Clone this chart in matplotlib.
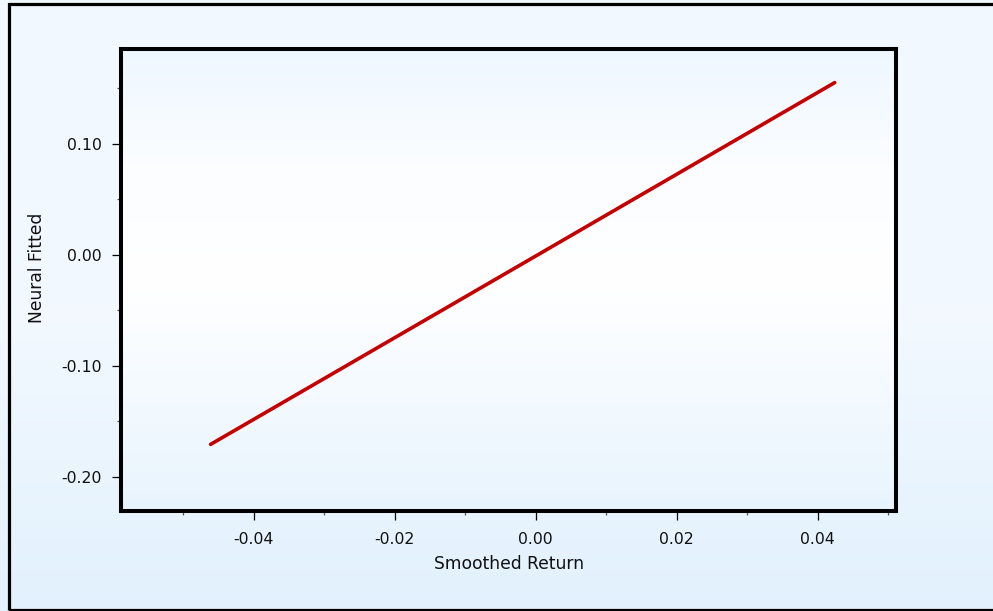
import matplotlib

matplotlib.use("Agg")
import matplotlib.pyplot as plt
import numpy as np
from matplotlib.colors import LinearSegmentedColormap
from matplotlib.patches import Rectangle

# network output against the smoothed return it was trained on
smoothed_return = [-0.0461, 0.0, 0.0424]
neural_fitted = [-0.1706, -0.0010, 0.1552]

x_major = [-0.04, -0.02, 0.00, 0.02, 0.04]
x_minor = [-0.05, -0.03, -0.01, 0.01, 0.03, 0.05]
y_major = [-0.20, -0.10, 0.00, 0.10]
y_minor = [-0.15, -0.05, 0.05, 0.15]

plt.rcParams["font.family"] = ["DejaVu Sans"]
plt.rcParams["axes.unicode_minus"] = False

fig = plt.figure(figsize=(9.93, 6.11), dpi=100)

# soft blue background wash behind everything
bg = fig.add_axes([0, 0, 1, 1], zorder=-10)
bg_cmap = LinearSegmentedColormap.from_list("bg", ["#f1f8ff", "#f3f9ff", "#e2f1fd"])
bg.imshow(np.linspace(0, 1, 256).reshape(-1, 1), cmap=bg_cmap, aspect="auto",
          extent=[0, 1, 0, 1], origin="upper")
bg.set_xlim(0, 1)
bg.set_ylim(0, 1)
bg.axis("off")
fig.patches.append(Rectangle((8.5, 1.5), 1000, 606, transform=None, fill=False,
                             edgecolor="black", linewidth=2.3, zorder=5))

ax = fig.add_axes([0.1219, 0.1637, 0.7805, 0.7553])
ax.patch.set_alpha(0)
panel_cmap = LinearSegmentedColormap.from_list(
    "panel", ["#eef7ff", "#fbfdff", "#ffffff", "#f4faff", "#e8f4fd"])
ax.imshow(np.linspace(0, 1, 256).reshape(-1, 1), cmap=panel_cmap, aspect="auto",
          extent=[0, 1, 0, 1], origin="upper", transform=ax.transAxes, zorder=0)

ax.plot(smoothed_return, neural_fitted, color="#c40000", lw=2.6,
        solid_capstyle="round", zorder=3)

ax.set_xlim(-0.0588, 0.0511)
ax.set_ylim(-0.2306, 0.185)

ax.set_xticks(x_major)
ax.set_xticklabels([f"{v:.2f}" for v in x_major])
ax.set_xticks(x_minor, minor=True)
ax.set_yticks(y_major)
ax.set_yticklabels([f"{v:.2f}" for v in y_major])
ax.set_yticks(y_minor, minor=True)

ax.tick_params(which="major", direction="out", length=6.5, width=0.9,
               color="black", labelsize=11.3, labelcolor="#111111")
ax.tick_params(axis="x", which="major", pad=8.5)
ax.tick_params(axis="y", which="major", pad=7.5)
ax.tick_params(which="minor", direction="out", length=3, width=0.9, color="#555555")

for s in ax.spines.values():
    s.set_linewidth(2.9)
    s.set_color("black")

ax.set_xlabel("Smoothed Return", fontsize=12.3, color="#111111", labelpad=6)
ax.set_ylabel("Neural Fitted", fontsize=12.3, color="#111111")
ax.yaxis.set_label_coords(-0.097, 0.526)

fig.savefig("out.png", dpi=100)
